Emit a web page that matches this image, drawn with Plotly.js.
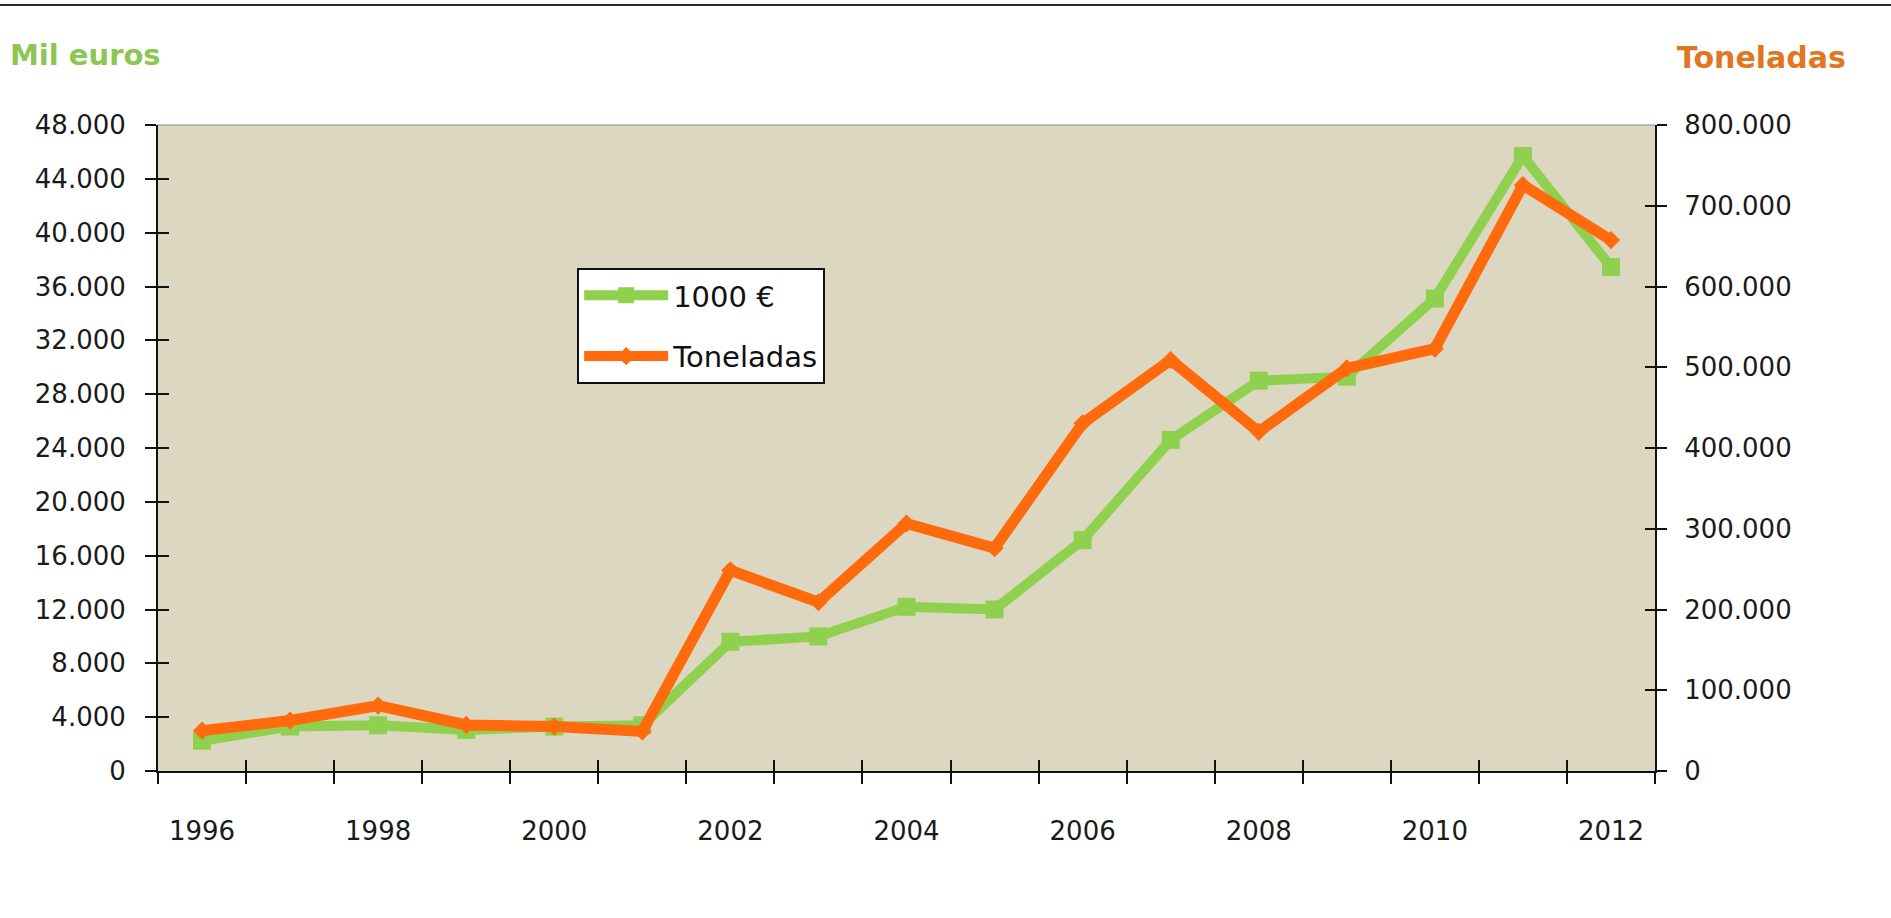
<!DOCTYPE html>
<html>
<head>
<meta charset="utf-8">
<script src="https://cdn.plot.ly/plotly-3.0.1.min.js"></script>
<style>
  html, body { margin: 0; padding: 0; background: #ffffff; }
  #wrap { position: relative; width: 1891px; height: 918px; }
  #chart { width: 1891px; height: 918px; }
  #topline { position: absolute; left: 0; top: 4px; width: 1891px; height: 2px; background: #2a2a2a; }
</style>
</head>
<body>
<div id="wrap">
  <div id="chart"></div>
  <div id="topline"></div>
</div>
<script>
// ---- data ----
const years = ['1996','1997','1998','1999','2000','2001','2002','2003','2004','2005','2006','2007','2008','2009','2010','2011','2012'];
const milEuros = [2250, 3300, 3400, 3050, 3300, 3400, 9600, 10000, 12200, 12000, 17150, 24600, 29000, 29300, 35100, 45700, 37450];
const toneladas = [50000, 62500, 81000, 57000, 55000, 49000, 248500, 209000, 306500, 276000, 430500, 509000, 420000, 498500, 523000, 725500, 657500];
const seriesNames = ['1000 €', 'Toneladas'];
const leftTitle = 'Mil euros';
const rightTitle = 'Toneladas';

const GREEN = '#8fd14f';
const ORANGE = '#ff6a0d';
const FONT = 'DejaVu Sans, Verdana, sans-serif';
const TICKFONT = {family: FONT, size: 26, color: '#1a1a1a'};

const traces = [
  {
    x: years, y: milEuros, name: seriesNames[0], type: 'scatter', mode: 'lines+markers',
    xaxis: 'x', yaxis: 'y', legendgroup: 'a',
    line: {color: GREEN, width: 10},
    marker: {symbol: 'square', size: 18, color: GREEN}
  },
  {
    x: years, y: toneladas, name: seriesNames[1], type: 'scatter', mode: 'lines+markers',
    xaxis: 'x', yaxis: 'y2', legendgroup: 'b',
    line: {color: ORANGE, width: 11},
    marker: {symbol: 'diamond', size: 14, color: ORANGE}
  },
  // empty helper traces so the inner-tick axes get drawn (no marks)
  {x: [], y: [], xaxis: 'x2', yaxis: 'y3', type: 'scatter', mode: 'lines', showlegend: false, hoverinfo: 'skip'},
  {x: [], y: [], xaxis: 'x2', yaxis: 'y4', type: 'scatter', mode: 'lines', showlegend: false, hoverinfo: 'skip'}
];

const n = years.length;

const layout = {
  width: 1891, height: 918,
  margin: {l: 158, r: 236, t: 125, b: 147},
  paper_bgcolor: '#ffffff',
  plot_bgcolor: '#dcd7c1',
  separators: ',.',
  showlegend: true,
  legend: {
    x: 0.28, y: 0.7786, xanchor: 'left', yanchor: 'top',
    bgcolor: '#ffffff', bordercolor: '#111111', borderwidth: 2,
    font: {family: FONT, size: 29, color: '#111111'},
    traceorder: 'grouped', tracegroupgap: 20,
    itemwidth: 84
  },
  xaxis: {
    type: 'category', range: [-0.5, n - 0.5],
    tickson: 'boundaries', ticks: 'outside', ticklen: 11, tickwidth: 2, tickcolor: '#111',
    dtick: 1, ticklabelstep: 2,
    tickfont: TICKFONT, ticklabelstandoff: 36,
    showline: true, linecolor: '#111', linewidth: 2,
    showgrid: false, zeroline: false, fixedrange: true
  },
  xaxis2: {
    overlaying: 'x', anchor: 'y3', side: 'bottom', type: 'linear',
    range: [-0.5, n - 0.5], tick0: -0.5, dtick: 1,
    ticks: 'inside', ticklen: 11, tickwidth: 2, tickcolor: '#111',
    showticklabels: false, showline: false, showgrid: false, zeroline: false
  },
  yaxis: {
    range: [0, 48000], dtick: 4000, tickformat: ',d',
    ticks: 'outside', ticklen: 11, tickwidth: 2, tickcolor: '#111',
    tickfont: TICKFONT, ticklabelstandoff: 14,
    showline: true, linecolor: '#111', linewidth: 2,
    showgrid: false, zeroline: false, fixedrange: true
  },
  yaxis2: {
    overlaying: 'y', side: 'right', anchor: 'x',
    range: [0, 800000], dtick: 100000, tickformat: ',d',
    ticks: 'outside', ticklen: 10, tickwidth: 2, tickcolor: '#111',
    tickfont: TICKFONT, ticklabelstandoff: 12,
    showline: true, linecolor: '#111', linewidth: 2,
    showgrid: false, zeroline: false, fixedrange: true
  },
  yaxis3: {
    overlaying: 'y', side: 'left', anchor: 'x2',
    range: [0, 48000], dtick: 4000,
    ticks: 'inside', ticklen: 11, tickwidth: 2, tickcolor: '#111',
    showticklabels: false, showline: false, showgrid: false, zeroline: false
  },
  yaxis4: {
    overlaying: 'y', side: 'right', anchor: 'x2',
    range: [0, 800000], dtick: 100000,
    ticks: 'inside', ticklen: 10, tickwidth: 2, tickcolor: '#111',
    showticklabels: false, showline: false, showgrid: false, zeroline: false
  },
  shapes: [
    {type: 'line', xref: 'paper', yref: 'paper', x0: 0, x1: 1, y0: 1, y1: 1,
     line: {color: '#8a8a80', width: 1}}
  ],
  annotations: [
    {text: '<b>' + leftTitle + '</b>', xref: 'paper', yref: 'paper',
     x: -0.1002, y: 1.1084, xanchor: 'left', yanchor: 'middle', showarrow: false,
     font: {family: FONT, size: 29, color: '#8cc653'}},
    {text: '<b>' + rightTitle + '</b>', xref: 'paper', yref: 'paper',
     x: 1.129, y: 1.105, xanchor: 'right', yanchor: 'middle', showarrow: false,
     font: {family: FONT, size: 30, color: '#e0761f'}}
  ]
};

Plotly.newPlot('chart', traces, layout, {displayModeBar: false, staticPlot: true});
</script>
</body>
</html>
